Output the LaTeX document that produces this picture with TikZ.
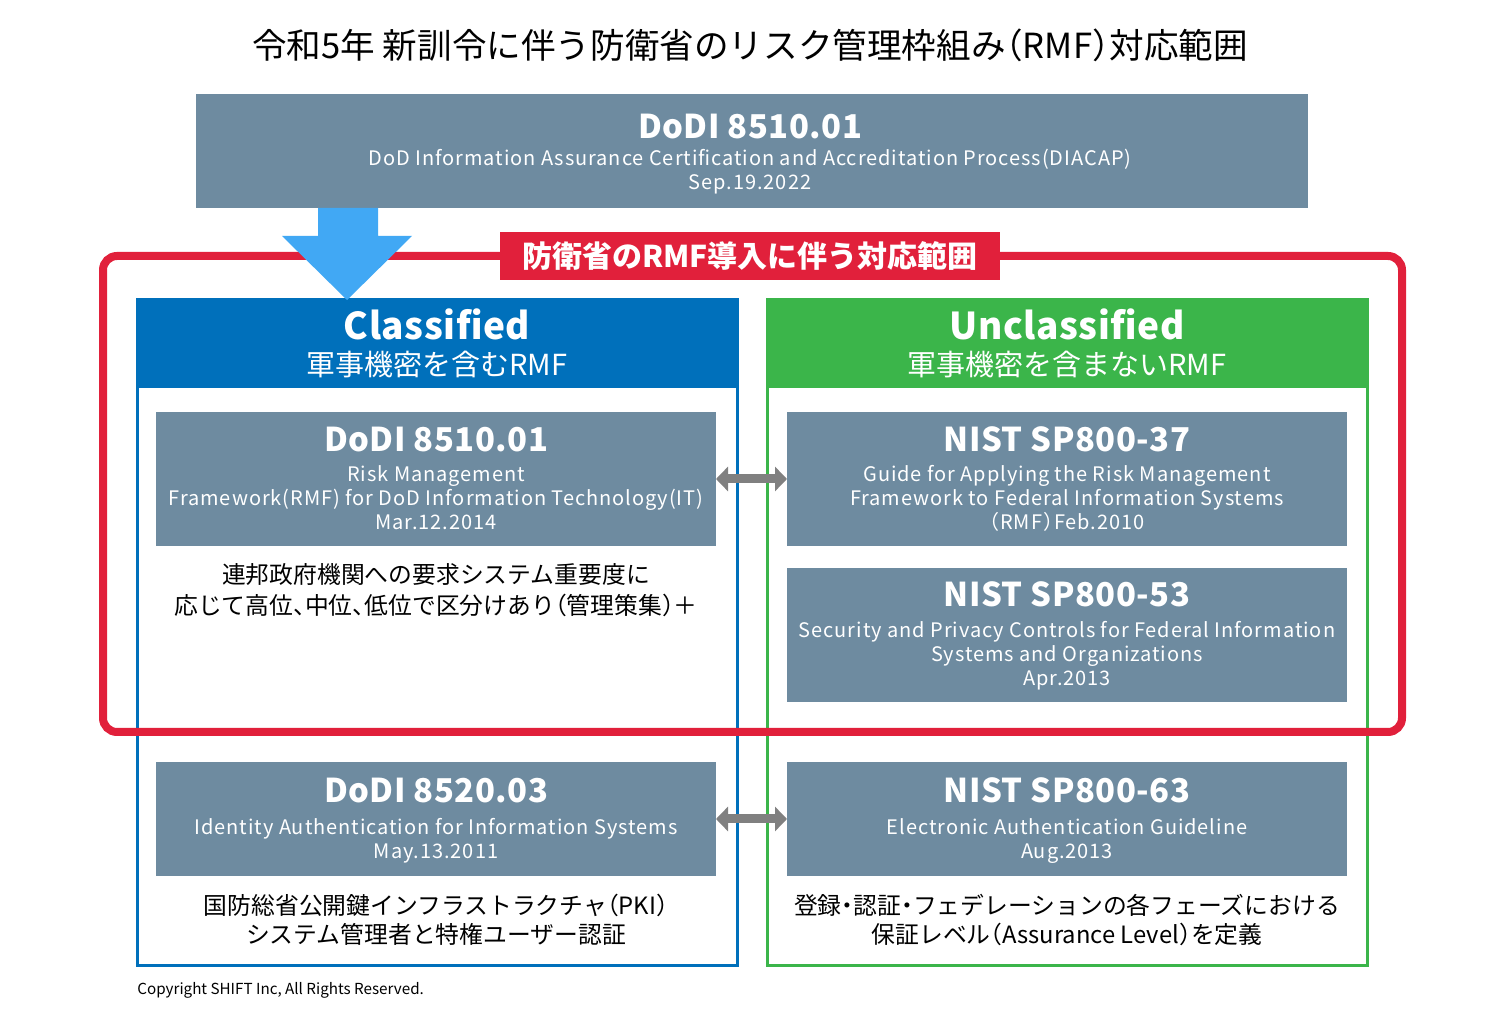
\documentclass[tikz,border=0pt]{standalone}
\usepackage{fontspec}
\setmainfont{Noto Sans CJK JP}[RawFeature=+halt]
\usetikzlibrary{arrows.meta}
\definecolor{docgray}{HTML}{6E8BA0}
\definecolor{clsblue}{HTML}{0070BB}
\definecolor{unclgreen}{HTML}{3BB54A}
\definecolor{scopered}{HTML}{E1203B}
\definecolor{flowblue}{HTML}{41A8F4}
\definecolor{linkgray}{HTML}{808080}
\tikzset{
  docbox/.style={fill=docgray, inner sep=0pt, outer sep=0pt, minimum width=280pt},
  doctitle/.style={text=white, font=\fontsize{16.4pt}{20pt}\selectfont\bfseries\addfontfeature{LetterSpace=1.5}, anchor=base, inner sep=0pt},
  docline/.style={text=white, font=\fontsize{10pt}{12pt}\selectfont\addfontfeature{LetterSpace=4.7}, anchor=base, inner sep=0pt},
  noteline/.style={text=black, font=\fontsize{11.9pt}{14pt}\selectfont, anchor=center, inner sep=0pt},
  panel/.style={line width=1.5pt, fill=white, inner sep=0pt, outer sep=0pt, minimum width=300pt, minimum height=333pt},
  panelhead/.style={inner sep=0pt, outer sep=0pt, minimum width=300pt, minimum height=44pt, anchor=north},
  headtitle/.style={text=white, font=\fontsize{18.5pt}{20pt}\selectfont\bfseries\addfontfeature{LetterSpace=1.5}, anchor=base, inner sep=0pt},
  headsub/.style={text=white, font=\fontsize{14.5pt}{16pt}\selectfont, anchor=center, inner sep=0pt},
  link/.style={draw=linkgray, line width=4.5pt, {Triangle[length=6pt,width=12pt]}-{Triangle[length=6pt,width=12pt]}}
}
\begin{document}
\begin{tikzpicture}[x=0.5pt,y=-0.5pt]
\useasboundingbox[fill=white] (0,0) rectangle (1500,1020);

% title
\node[font=\fontsize{17.3pt}{20pt}\selectfont, inner sep=0pt] (title) at (750,45) {令和5年 新訓令に伴う防衛省のリスク管理枠組み（RMF）対応範囲};

% top document
\node[docbox, minimum width=556pt, minimum height=57pt] (top) at (752,151) {};
\node[doctitle] (toptitle) at (750,139) {DoDI 8510.01};
\node[docline] (topl1) at (750,166) {DoD Information Assurance Certification and Accreditation Process(DIACAP)};
\node[docline] (topl2) at (750,190) {Sep.19.2022};

% panels
\node[panel, draw=clsblue] (cls) at (437,633) {};
\node[panelhead, fill=clsblue] (clshead) at (cls.north) {};
\node[headtitle] (clst) at (437,340) {Classified};
\node[headsub] (clss) at (437,365) {軍事機密を含むRMF};

\node[panel, draw=unclgreen] (ucl) at (1067,633) {};
\node[panelhead, fill=unclgreen] (uclhead) at (ucl.north) {};
\node[headtitle] (uclt) at (1067,340) {Unclassified};
\node[headsub] (ucls) at (1067,365) {軍事機密を含まないRMF};

% left row 1
\node[docbox, minimum height=67pt] (b1) at (436,479) {};
\node[doctitle] (b1t) at (436,452) {DoDI 8510.01};
\node[docline] (b1a) at (436,482) {Risk Management};
\node[docline] (b1b) at (436,506) {Framework(RMF) for DoD Information Technology(IT)};
\node[docline] (b1c) at (436,530) {Mar.12.2014};
\node[noteline] (b1n1) at (436,575) {連邦政府機関への要求システム重要度に};
\node[noteline] (b1n2) at (436,605) {応じて高位、中位、低位で区分けあり（管理策集）＋};

% right row 1
\node[docbox, minimum height=67pt] (n1) at (1067,479) {};
\node[doctitle] (n1t) at (1067,452) {NIST SP800-37};
\node[docline] (n1a) at (1067,482) {Guide for Applying the Risk Management};
\node[docline] (n1b) at (1067,506) {Framework to Federal Information Systems};
\node[docline] (n1c) at (1067,530) {（RMF）Feb.2010};

% right row 2
\node[docbox, minimum height=67pt] (n2) at (1067,635) {};
\node[doctitle] (n2t) at (1067,607) {NIST SP800-53};
\node[docline] (n2a) at (1067,638) {Security and Privacy Controls for Federal Information};
\node[docline] (n2b) at (1067,662) {Systems and Organizations};
\node[docline] (n2c) at (1067,686) {Apr.2013};

% left row 3
\node[docbox, minimum height=57pt] (b3) at (436,819) {};
\node[doctitle] (b3t) at (436,803) {DoDI 8520.03};
\node[docline] (b3a) at (436,835) {Identity Authentication for Information Systems};
\node[docline] (b3b) at (436,859) {May.13.2011};
\node[noteline] (b3n1) at (436,905) {国防総省公開鍵インフラストラクチャ（PKI）};
\node[noteline] (b3n2) at (436,934) {システム管理者と特権ユーザー認証};

% right row 3
\node[docbox, minimum height=57pt] (n3) at (1067,819) {};
\node[doctitle] (n3t) at (1067,803) {NIST SP800-63};
\node[docline] (n3a) at (1067,835) {Electronic Authentication Guideline};
\node[docline] (n3b) at (1067,859) {Aug.2013};
\node[noteline] (n3n1) at (1067,905) {登録・認証・フェデレーションの各フェーズにおける};
\node[noteline] (n3n2) at (1067,934) {保証レベル（Assurance Level）を定義};

% links
\draw[link] (b1.east) -- (n1.west);
\draw[link] (b3.east) -- (n3.west);

% red scope frame
\node[draw=scopered, line width=4pt, rounded corners=7pt, inner sep=0pt, minimum width=649.5pt, minimum height=238pt] (scope) at (752.5,494) {};
\node[fill=scopered, text=white, font=\fontsize{15pt}{17pt}\selectfont\bfseries, inner sep=0pt, minimum width=250pt, minimum height=24pt] (scopelabel) at (750,256) {防衛省のRMF導入に伴う対応範囲};

% blue flow arrow
\fill[flowblue] (318,208) -- (378,208) -- (378,236) -- (412,236) -- (347,300) -- (282,236) -- (318,236) -- cycle;

% copyright
\node[anchor=base west, font=\fontsize{7.6pt}{9pt}\selectfont, inner sep=0pt] (copy) at (137,994) {Copyright SHIFT Inc, All Rights Reserved.};
\end{tikzpicture}
\end{document}
